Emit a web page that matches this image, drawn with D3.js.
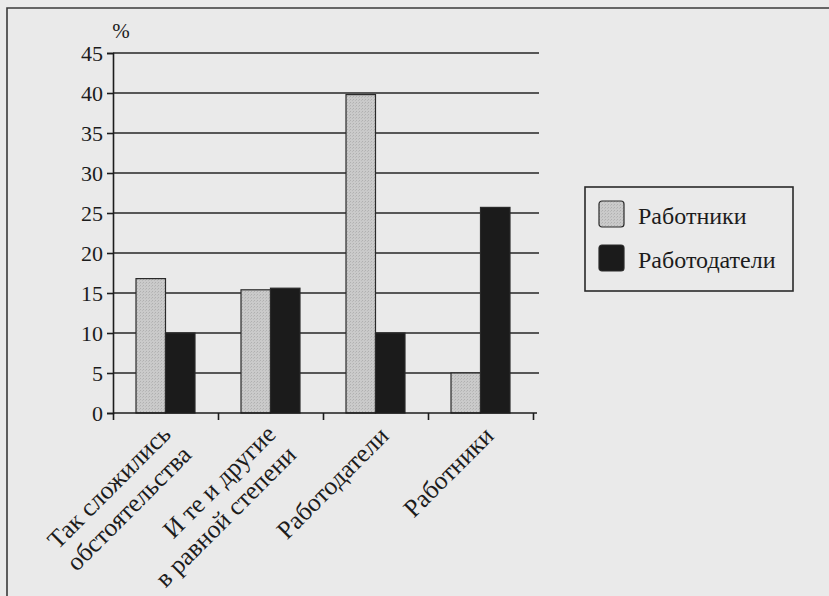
<!DOCTYPE html>
<html>
<head>
<meta charset="utf-8">
<script src="https://cdn.jsdelivr.net/npm/d3@7"></script>
</head>
<body style="margin:0; background:#eaeaea">
<div id="chart"></div>
<script>
// data
const categories = ['Так сложились|обстоятельства', 'И те и другие|в равной степени', 'Работодатели', 'Работники'];
const seriesNames = ['Работники', 'Работодатели'];
const workers = [16.8, 15.4, 39.8, 5];
const employers = [10, 15.6, 10, 25.7];
const yTicks = [0, 5, 10, 15, 20, 25, 30, 35, 40, 45];

const width = 829, height = 596;
const FONT = '"Liberation Serif"';
const ink = '#1c1c1c';
const colors = { 'Работники': 'url(#dots)', 'Работодатели': '#1b1b1b' };

let svg = d3.select('#chart').append('svg')
  .attr('width', width)
  .attr('height', height)
  .style('display', 'block');

// paper + frame of the book page
svg.append('rect')
  .attr('width', width).attr('height', height)
  .attr('fill', '#eaeaea');
svg.append('path')
  .attr('d', `M7,${height} V8 H${width}`)
  .attr('fill', 'none')
  .attr('stroke', '#3a3a3a')
  .attr('stroke-width', 1.6);

// stipple for the light bars
let pat = svg.append('defs').append('pattern')
  .attr('id', 'dots')
  .attr('width', 3).attr('height', 3)
  .attr('patternUnits', 'userSpaceOnUse');
pat.append('rect').attr('width', 3).attr('height', 3).attr('fill', '#cacaca');
pat.append('rect').attr('width', 1).attr('height', 1).attr('fill', '#b0b0b0');
pat.append('rect').attr('x', 2).attr('y', 1).attr('width', 1).attr('height', 1).attr('fill', '#bababa');

let x = d3.scaleBand()
  .domain(categories)
  .range([113, 533]);

let xInner = d3.scaleBand()
  .domain(seriesNames)
  .range([0, x.bandwidth()])
  .paddingOuter(0.78);

let y = d3.scaleLinear()
  .domain([0, 45])
  .range([413, 53]);

// grid
svg.append('g')
  .selectAll('line')
  .data(yTicks.slice(1))
  .enter().append('line')
  .attr('x1', 113).attr('x2', 539)
  .attr('y1', (d) => y(d)).attr('y2', (d) => y(d))
  .attr('stroke', '#262626')
  .attr('stroke-width', 1.6);

// bars
let rows = categories.map((c, i) => ({ cat: c, values: [
  { key: seriesNames[0], v: workers[i] },
  { key: seriesNames[1], v: employers[i] }
]}));

svg.append('g').selectAll('g')
  .data(rows)
  .enter().append('g')
  .attr('transform', (d) => `translate(${x(d.cat)},0)`)
  .selectAll('rect')
  .data((d) => d.values)
  .enter().append('rect')
  .attr('x', (d) => xInner(d.key))
  .attr('width', xInner.bandwidth())
  .attr('y', (d) => y(d.v))
  .attr('height', (d) => y(0) - y(d.v))
  .attr('fill', (d) => colors[d.key])
  .attr('stroke', '#2a2a2a')
  .attr('stroke-width', 1.2);

// y axis
let gy = svg.append('g')
  .attr('transform', 'translate(113,0)')
  .call(d3.axisLeft(y).tickValues(yTicks).tickSize(6).tickPadding(4).tickFormat(d3.format('d')));
gy.attr('font-family', null).attr('font-size', null);
gy.select('.domain').attr('stroke', ink).attr('stroke-width', 1.6);
gy.selectAll('.tick line').attr('stroke', ink).attr('stroke-width', 1.6);
gy.selectAll('.tick text')
  .attr('fill', ink)
  .style('font-family', FONT)
  .style('font-size', '22px');

svg.append('text')
  .attr('x', 121).attr('y', 38)
  .attr('text-anchor', 'middle')
  .attr('fill', ink)
  .style('font-family', FONT)
  .style('font-size', '21px')
  .text('%');

// x axis, ticks on category boundaries
let xb = d3.scaleLinear().domain([0, categories.length]).range([113, 533]);
let gx = svg.append('g')
  .attr('transform', `translate(0,${y(0)})`)
  .call(d3.axisBottom(xb).ticks(4).tickSize(7).tickFormat(''));
gx.select('.domain').attr('d', 'M113,0H537').attr('stroke', ink).attr('stroke-width', 1.6);
gx.selectAll('.tick line').attr('stroke', ink).attr('stroke-width', 1.6);

// rotated category labels
const lineH = 29;
svg.append('g').selectAll('text')
  .data(categories)
  .enter().append('text')
  .attr('text-anchor', 'end')
  .attr('fill', ink)
  .style('font-family', FONT)
  .style('font-size', '25.5px')
  .attr('transform', (d) => `translate(${x(d) + x.bandwidth() / 2 + 17},${446}) rotate(-45)`)
  .each(function(d) {
    let parts = d.split('|');
    let t = d3.select(this);
    parts.forEach((p, i) => {
      t.append('tspan')
        .attr('x', parts.length === 1 ? 4.6 : 0)
        .attr('y', parts.length === 1 ? -7.8 : (i - 0.5) * lineH)
        .text(p);
    });
  });

// legend
let legend = svg.append('g').attr('transform', 'translate(585,187)');
legend.append('rect')
  .attr('width', 208).attr('height', 104)
  .attr('fill', 'none')
  .attr('stroke', '#2a2a2a')
  .attr('stroke-width', 1.6);

let items = legend.selectAll('.item')
  .data(seriesNames)
  .enter().append('g')
  .attr('class', 'item')
  .attr('transform', (d, i) => `translate(14,${14 + i * 44})`);

items.append('rect')
  .attr('width', 25).attr('height', 26)
  .attr('rx', 3)
  .attr('fill', (d) => colors[d])
  .attr('stroke', '#2a2a2a')
  .attr('stroke-width', 1.2);

items.append('text')
  .attr('x', 39).attr('y', 23)
  .attr('fill', ink)
  .style('font-family', FONT)
  .style('font-size', '24px')
  .text((d) => d);
</script>
</body>
</html>
